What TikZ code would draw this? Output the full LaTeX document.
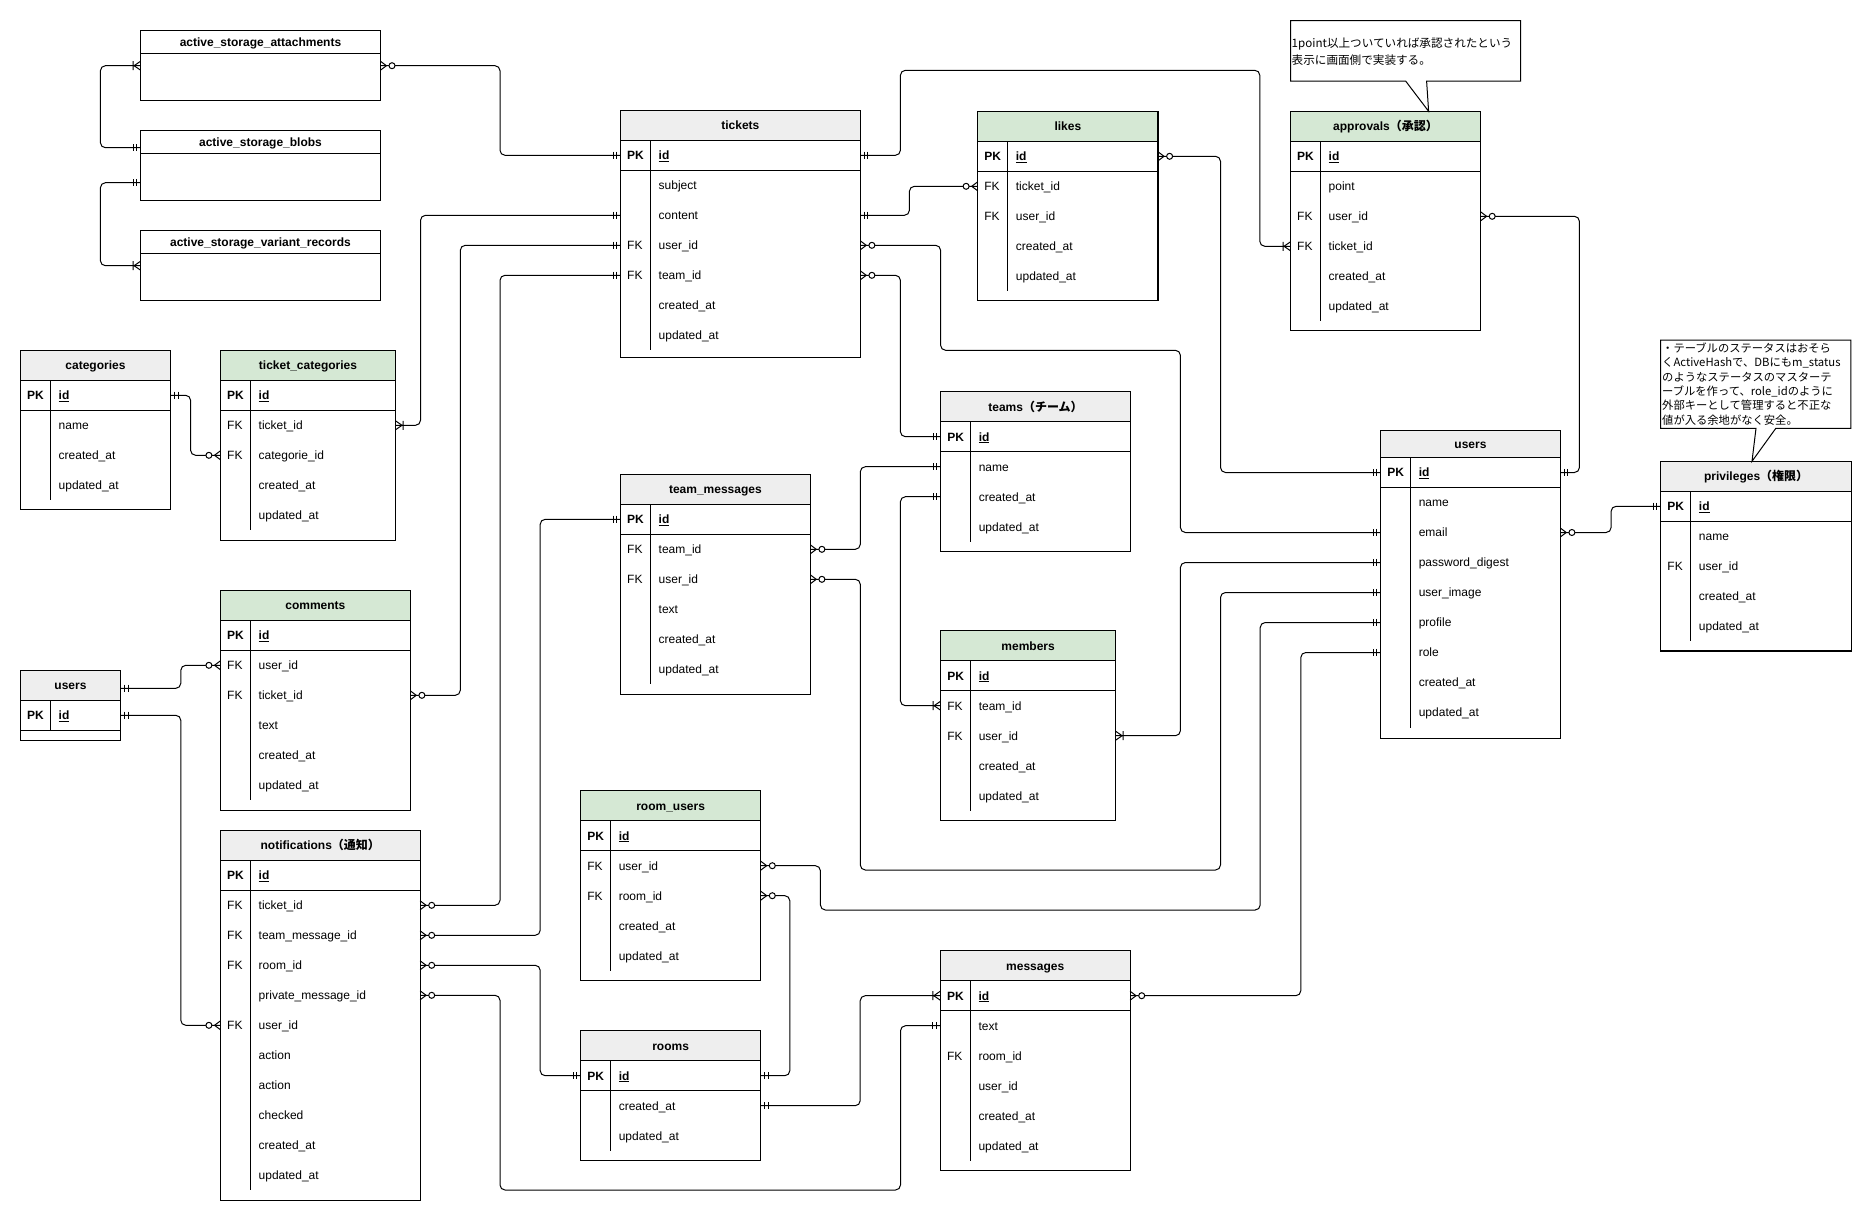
\documentclass[tikz,border=0pt]{standalone}
\usepackage{fontspec}
\setmainfont{Liberation Sans}
\newfontfamily\cjk{Noto Sans CJK JP}
\definecolor{hdgray}{HTML}{EEEEEE}
\definecolor{hdgreen}{HTML}{D5E8D4}
\tikzset{
  tblbody/.style={draw, line width=1.1pt, fill=white, rectangle, inner sep=0pt, outer sep=0pt},
  tblhead/.style={draw, line width=1.1pt, rectangle, inner sep=0pt, outer sep=0pt},
  tblline/.style={line width=1pt},
  headtxt/.style={font=\fontsize{12}{14}\selectfont\bfseries, inner sep=0pt},
  celltxt/.style={font=\fontsize{12}{14}\selectfont, inner sep=0pt, anchor=base west},
  notetxt/.style={font=\fontsize{11.6}{14}\selectfont\cjk, inner sep=0pt, anchor=base west},
  notetxtb/.style={font=\fontsize{11.3}{14}\selectfont\cjk, inner sep=0pt, anchor=base west},
  conn/.style={line width=1pt, rounded corners=5pt},
  mk/.style={line width=1pt},
  callout/.style={draw, line width=1pt, fill=white},
}
% #1 name, #2 x, #3 top y, #4 width, #5 header height, #6 header fill, #7 title, #8 bottom y, #9 rows
\newcommand\ertable[9]{%
  \node[tblbody, minimum width=#4, minimum height={#8-#3}, anchor=north west] (#1) at (#2,#3) {};
  \node[tblhead, fill=#6, minimum width=#4, minimum height=#5, anchor=north west] (#1-h) at (#2,#3) {};
  \node[headtxt, anchor=base] (#1-t) at ({#2+#4/2},{#3+#5/2+4.3}) {#7};
  \coordinate (#1-0-W) at (#2,{#3+#5+15});
  \coordinate (#1-0-E) at ({#2+#4},{#3+#5+15});
  \node[celltxt] (#1-0-k) at ({#2+6.5},{#3+#5+19.3}) {\bfseries PK};
  \node[celltxt] (#1-0-a) at ({#2+38},{#3+#5+19.3}) {\bfseries\underline{id}};
  \draw[tblline] (#2,{#3+#5+30}) -- ({#2+#4},{#3+#5+30});
  \draw[tblline] ({#2+30},{#3+#5}) -- ({#2+30},{#3+#5+30});
  \foreach \erK/\erA [count=\eri] in {#9} {
    \coordinate (#1-\eri-W) at (#2,{#3+#5+30*\eri+15});
    \coordinate (#1-\eri-E) at ({#2+#4},{#3+#5+30*\eri+15});
    \node[celltxt] (#1-\eri-k) at ({#2+6.5},{#3+#5+30*\eri+19.3}) {\erK};
    \node[celltxt] (#1-\eri-a) at ({#2+38},{#3+#5+30*\eri+19.3}) {\erA};
    \draw[tblline] ({#2+30},{#3+#5+30*\eri}) -- ({#2+30},{#3+#5+30*\eri+30});
  }%
}
\newcommand\erOne[2]{\begin{scope}[shift={(#1)}, xscale=#2]\draw[mk] (4,-3.7) -- (4,3.7) (7.5,-3.7) -- (7.5,3.7);\end{scope}}
\newcommand\erZM[2]{\begin{scope}[shift={(#1)}, xscale=#2]\draw[mk] (0,-4.5) -- (6,0) -- (0,4.5); \draw[mk, fill=white] (11.6,0) circle[radius=3pt];\end{scope}}
\newcommand\erOM[2]{\begin{scope}[shift={(#1)}, xscale=#2]\draw[mk] (0,-4.5) -- (6.5,0) -- (0,4.5) (7.5,-4.5) -- (7.5,4.5);\end{scope}}
\begin{document}
\begin{tikzpicture}[x=1pt, y=-1pt]
\useasboundingbox (0,0) rectangle (1872,1221);
\fill[white] (0,0) rectangle (1872,1221);

% ---------- active storage tables ----------
\node[tblbody, minimum width=239.8, minimum height=70, anchor=north west] (asa) at (140.6,30.3) {};
\node[tblhead, fill=white, minimum width=239.8, minimum height=23, anchor=north west] (asa-h) at (140.6,30.3) {};
\node[headtxt, anchor=base] (asa-t) at (260.5,46.1) {active\_storage\_attachments};
\node[tblbody, minimum width=239.8, minimum height=70, anchor=north west] (asb) at (140.6,130.3) {};
\node[tblhead, fill=white, minimum width=239.8, minimum height=23, anchor=north west] (asb-h) at (140.6,130.3) {};
\node[headtxt, anchor=base] (asb-t) at (260.5,146.1) {active\_storage\_blobs};
\node[tblbody, minimum width=239.8, minimum height=70, anchor=north west] (asv) at (140.6,230.3) {};
\node[tblhead, fill=white, minimum width=239.8, minimum height=23, anchor=north west] (asv-h) at (140.6,230.3) {};
\node[headtxt, anchor=base] (asv-t) at (260.5,246.1) {active\_storage\_variant\_records};
\coordinate (asa-W) at (140.6,65.7);
\coordinate (asa-E) at (380.4,65.7);
\coordinate (asb-W1) at (140.6,147.7);
\coordinate (asb-W2) at (140.6,182.7);
\coordinate (asv-W) at (140.6,265.7);

% ---------- ER tables ----------
\ertable{tk}{620.5}{110.3}{239.8}{30}{hdgray}{tickets}{357.3}{/subject,/content,FK/user\_id,FK/team\_id,/created\_at,/updated\_at}
\ertable{lk}{977.7}{111.3}{180.3}{30}{hdgreen}{likes}{300.3}{FK/ticket\_id,FK/user\_id,/created\_at,/updated\_at}
\ertable{ap}{1290.5}{111.3}{190.1}{30}{hdgreen}{approvals{\cjk （承認）}}{330.3}{/point,FK/user\_id,FK/ticket\_id,/created\_at,/updated\_at}
\ertable{cat}{20.5}{350.3}{150}{30}{hdgray}{categories}{509.3}{/name,/created\_at,/updated\_at}
\ertable{tc}{220.5}{350.3}{175}{30}{hdgreen}{ticket\_categories}{540.3}{FK/ticket\_id,FK/categorie\_id,/created\_at,/updated\_at}
\ertable{cm}{220.5}{590.3}{189.8}{30}{hdgreen}{comments}{810.3}{FK/user\_id,FK/ticket\_id,/text,/created\_at,/updated\_at}
\ertable{nt}{220.5}{830.3}{199.6}{30}{hdgray}{notifications{\cjk （通知）}}{1200.3}{FK/ticket\_id,FK/team\_message\_id,FK/room\_id,/private\_message\_id,FK/user\_id,/action,/action,/checked,/created\_at,/updated\_at}
\ertable{tm}{620.5}{474.3}{189.8}{30}{hdgray}{team\_messages}{694.3}{FK/team\_id,FK/user\_id,/text,/created\_at,/updated\_at}
\ertable{te}{940.6}{391.7}{189.8}{30}{hdgray}{teams{\cjk （チーム）}}{551.3}{/name,/created\_at,/updated\_at}
\ertable{mb}{940.6}{630.7}{175}{30}{hdgreen}{members}{820.3}{FK/team\_id,FK/user\_id,/created\_at,/updated\_at}
\ertable{us}{1380.6}{430.5}{179.7}{27}{hdgray}{users}{738.3}{/name,/email,/password\_digest,/user\_image,/profile,/role,/created\_at,/updated\_at}
\ertable{pv}{1660.7}{461.3}{190.9}{30}{hdgray}{privileges{\cjk （権限）}}{651}{/name,FK/user\_id,/created\_at,/updated\_at}
\ertable{ru}{580.6}{790.7}{180.1}{30}{hdgreen}{room\_users}{980.3}{FK/user\_id,FK/room\_id,/created\_at,/updated\_at}
\ertable{rm}{580.6}{1030.7}{180.1}{30}{hdgray}{rooms}{1160.3}{/created\_at,/updated\_at}
\ertable{ms}{940.3}{950.7}{189.8}{30}{hdgray}{messages}{1170.3}{/text,FK/room\_id,/user\_id,/created\_at,/updated\_at}

% small users table
\node[tblbody, minimum width=100, minimum height=70, anchor=north west] (uS) at (20.5,670.3) {};
\node[tblhead, fill=hdgray, minimum width=100, minimum height=30, anchor=north west] (uS-h) at (20.5,670.3) {};
\node[headtxt, anchor=base] (uS-t) at (70.5,689.6) {users};
\node[celltxt] (uS-0-k) at (27,719.6) {\bfseries PK};
\node[celltxt] (uS-0-a) at (58.5,719.6) {\bfseries\underline{id}};
\draw[tblline] (20.5,730.3) -- (120.5,730.3);
\draw[tblline] (50.5,700.3) -- (50.5,730.3);
\coordinate (uS-h-E) at (120.5,688.3);
\coordinate (uS-0-E) at (120.5,715.3);

% ---------- connectors ----------
\draw[conn] (asa-W) -| ([xshift=-40.2pt]asb-W1) -- (asb-W1);
\draw[conn] (asb-W2) -| ([xshift=-40.2pt]asv-W) -- (asv-W);
\draw[conn] (asa-E) -| ([xshift=-120.5pt]tk-0-W) -- (tk-0-W);
\draw[conn] (tk-2-W) -| ([xshift=25pt]tc-1-E) -- (tc-1-E);
\draw[conn] (tk-3-W) -| ([xshift=50pt]cm-2-E) -- (cm-2-E);
\draw[conn] (tk-4-W) -| ([xshift=79.9pt]nt-1-E) -- (nt-1-E);
\draw[conn] (tk-0-E) -| (900.4,70.3) -| ([xshift=-30.7pt]ap-3-W) -- (ap-3-W);
\draw[conn] (tk-2-E) -| ([xshift=-68.3pt]lk-1-W) -- (lk-1-W);
\draw[conn] (tk-3-E) -| (940.6,350.3) -| ([xshift=-200.2pt]us-2-W) -- (us-2-W);
\draw[conn] (tk-4-E) -| ([xshift=-40.2pt]te-0-W) -- (te-0-W);
\draw[conn] (lk-0-E) -| ([xshift=-160.1pt]us-0-W) -- (us-0-W);
\draw[conn] (us-0-E) -| ([xshift=98.8pt]ap-2-E) -- (ap-2-E);
\draw[conn] (us-2-E) -| ([xshift=-49.6pt]pv-0-W) -- (pv-0-W);
\draw[conn] (cat-0-E) -| ([xshift=-29.9pt]tc-2-W) -- (tc-2-W);
\draw[conn] (uS-h-E) -| ([xshift=-39.7pt]cm-1-W) -- (cm-1-W);
\draw[conn] (uS-0-E) -| ([xshift=-39.7pt]nt-5-W) -- (nt-5-W);
\draw[conn] (nt-2-E) -| ([xshift=-80.3pt]tm-0-W) -- (tm-0-W);
\draw[conn] (nt-3-E) -| ([xshift=-40.4pt]rm-0-W) -- (rm-0-W);
\draw[conn] (nt-4-E) -| (500,1190) -| ([xshift=-39.8pt]ms-1-W) -- (ms-1-W);
\draw[conn] (te-1-W) -| ([xshift=50pt]tm-1-E) -- (tm-1-E);
\draw[conn] (te-2-W) -| ([xshift=-40.2pt]mb-1-W) -- (mb-1-W);
\draw[conn] (tm-2-E) -| (860.3,870) -| ([xshift=-160.1pt]us-4-W) -- (us-4-W);
\draw[conn] (mb-2-E) -| ([xshift=-200.2pt]us-3-W) -- (us-3-W);
\draw[conn] (ru-1-E) -| (820.4,910) -| ([xshift=-120.4pt]us-5-W) -- (us-5-W);
\draw[conn] (ru-2-E) -| ([xshift=29.1pt]rm-0-E) -- (rm-0-E);
\draw[conn] (rm-1-E) -| ([xshift=-80.1pt]ms-0-W) -- (ms-0-W);
\draw[conn] (ms-0-E) -| ([xshift=-79.8pt]us-6-W) -- (us-6-W);

% ---------- cardinality marks ----------
\erOM{asa-W}{-1} \erOne{asb-W1}{-1}
\erOne{asb-W2}{-1} \erOM{asv-W}{-1}
\erZM{asa-E}{1} \erOne{tk-0-W}{-1}
\erOne{tk-2-W}{-1} \erOM{tc-1-E}{1}
\erOne{tk-3-W}{-1} \erZM{cm-2-E}{1}
\erOne{tk-4-W}{-1} \erZM{nt-1-E}{1}
\erOne{tk-0-E}{1} \erOM{ap-3-W}{-1}
\erOne{tk-2-E}{1} \erZM{lk-1-W}{-1}
\erZM{tk-3-E}{1} \erOne{us-2-W}{-1}
\erZM{tk-4-E}{1} \erOne{te-0-W}{-1}
\erZM{lk-0-E}{1} \erOne{us-0-W}{-1}
\erOne{us-0-E}{1} \erZM{ap-2-E}{1}
\erZM{us-2-E}{1} \erOne{pv-0-W}{-1}
\erOne{cat-0-E}{1} \erZM{tc-2-W}{-1}
\erOne{uS-h-E}{1} \erZM{cm-1-W}{-1}
\erOne{uS-0-E}{1} \erZM{nt-5-W}{-1}
\erZM{nt-2-E}{1} \erOne{tm-0-W}{-1}
\erZM{nt-3-E}{1} \erOne{rm-0-W}{-1}
\erZM{nt-4-E}{1} \erOne{ms-1-W}{-1}
\erOne{te-1-W}{-1} \erZM{tm-1-E}{1}
\erOne{te-2-W}{-1} \erOM{mb-1-W}{-1}
\erZM{tm-2-E}{1} \erOne{us-4-W}{-1}
\erOM{mb-2-E}{1} \erOne{us-3-W}{-1}
\erZM{ru-1-E}{1} \erOne{us-5-W}{-1}
\erZM{ru-2-E}{1} \erOne{rm-0-E}{1}
\erOne{rm-1-E}{1} \erOM{ms-0-W}{-1}
\erZM{ms-0-E}{1} \erOne{us-6-W}{-1}

% ---------- callouts ----------
\draw[callout] (1290.5,20.7) -- (1520.6,20.7) -- (1520.6,81) -- (1426.6,81) -- (1428.6,111.3) -- (1405.6,81) -- (1290.5,81) -- cycle;
\node[notetxt] (n1a) at (1291.5,47.8) {1point以上ついていれば承認されたという};
\node[notetxt] (n1b) at (1291.5,64.5) {表示に画面側で実装する。};

\draw[callout] (1660.7,340) -- (1850.8,340) -- (1850.8,428.3) -- (1775.8,428.3) -- (1752,461.3) -- (1756,428.3) -- (1660.7,428.3) -- cycle;
\node[notetxtb] (n2a) at (1662,352.1) {・テーブルのステータスはおそら};
\node[notetxtb] (n2b) at (1662,366.6) {くActiveHashで、DBにもm\_status};
\node[notetxtb] (n2c) at (1662,381) {のようなステータスのマスターテ};
\node[notetxtb] (n2d) at (1662,395.4) {ーブルを作って、role\_idのように};
\node[notetxtb] (n2e) at (1662,409.8) {外部キーとして管理すると不正な};
\node[notetxtb] (n2f) at (1662,424.2) {値が入る余地がなく安全。};
\end{tikzpicture}
\end{document}
